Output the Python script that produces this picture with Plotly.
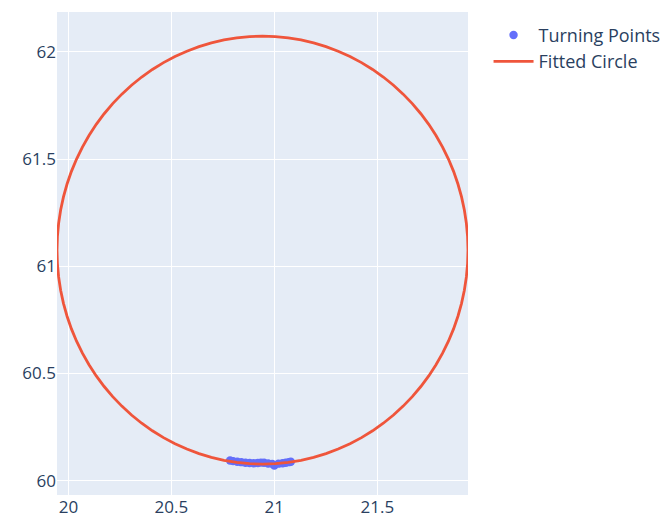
import numpy as np
import plotly.graph_objects as go

# Turning points
tp_x = [20.785, 20.80, 20.82, 20.84, 20.86, 20.88, 20.90, 20.92, 20.935, 20.95,
        20.97, 20.99, 21.00, 21.02, 21.04, 21.055, 21.07, 21.08]
tp_y = [60.094, 60.091, 60.088, 60.086, 60.083, 60.082, 60.081, 60.082, 60.084, 60.083,
        60.080, 60.078, 60.070, 60.079, 60.081, 60.083, 60.086, 60.088]

# Fitted circle parameters
circle_cx = 20.9425
circle_cy = 61.075
circle_r = 0.998

theta = np.linspace(0, 2 * np.pi, 101)
circ_x = circle_cx + circle_r * np.cos(theta)
circ_y = circle_cy + circle_r * np.sin(theta)

fig = go.Figure()
fig.add_trace(go.Scatter(x=tp_x, y=tp_y, mode="markers", name="Turning Points",
                         marker=dict(color="#636efa", size=8.4)))
fig.add_trace(go.Scatter(x=circ_x, y=circ_y, mode="lines", name="Fitted Circle",
                         line=dict(color="#EF553B", width=2.8)))

fig.update_layout(
    template="plotly",
    width=661, height=513,
    margin=dict(l=49, r=201, t=4, b=26, autoexpand=False),
    font=dict(size=17),
    legend=dict(itemwidth=40, x=1.05, y=0.99, tracegroupgap=0, font=dict(size=18)),
    xaxis=dict(tickvals=[20, 20.5, 21, 21.5], ticktext=["20", "20.5", "21", "21.5"]),
    yaxis=dict(tickvals=[60, 60.5, 61, 61.5, 62], ticktext=["60", "60.5", "61", "61.5", "62"]),
)

fig.write_html("out.html")
